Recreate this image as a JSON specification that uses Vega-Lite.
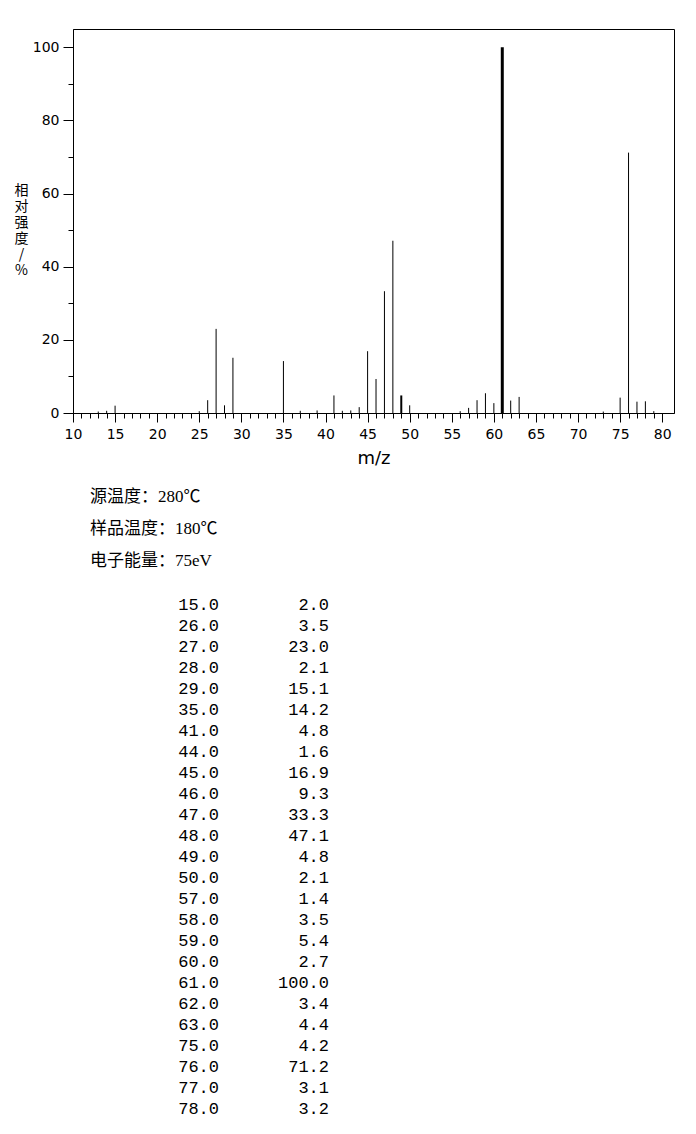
{
  "$schema": "https://vega.github.io/schema/vega-lite/v6.json",
  "background": "white",
  "padding": {"left": 13, "top": 28, "right": 0, "bottom": 0},
  "config": {
    "view": {"stroke": "black", "strokeWidth": 1},
    "axis": {
      "grid": false,
      "domainColor": "black",
      "tickColor": "black",
      "labelColor": "black",
      "titleColor": "black",
      "labelFont": "DejaVu Sans",
      "labelFontSize": 14,
      "titleFontWeight": "normal"
    }
  },
  "datasets": {
    "spectrum": [
      {"mz": 13, "intensity": 0.4, "listed": false},
      {"mz": 14, "intensity": 0.6, "listed": false},
      {"mz": 15, "intensity": 2.0, "listed": true},
      {"mz": 25, "intensity": 0.5, "listed": false},
      {"mz": 26, "intensity": 3.5, "listed": true},
      {"mz": 27, "intensity": 23.0, "listed": true},
      {"mz": 28, "intensity": 2.1, "listed": true},
      {"mz": 29, "intensity": 15.1, "listed": true},
      {"mz": 35, "intensity": 14.2, "listed": true},
      {"mz": 37, "intensity": 0.6, "listed": false},
      {"mz": 39, "intensity": 0.7, "listed": false},
      {"mz": 41, "intensity": 4.8, "listed": true},
      {"mz": 42, "intensity": 0.6, "listed": false},
      {"mz": 43, "intensity": 0.7, "listed": false},
      {"mz": 44, "intensity": 1.6, "listed": true},
      {"mz": 45, "intensity": 16.9, "listed": true},
      {"mz": 46, "intensity": 9.3, "listed": true},
      {"mz": 47, "intensity": 33.3, "listed": true},
      {"mz": 48, "intensity": 47.1, "listed": true},
      {"mz": 49, "intensity": 4.8, "listed": true},
      {"mz": 50, "intensity": 2.1, "listed": true},
      {"mz": 56, "intensity": 0.5, "listed": false},
      {"mz": 57, "intensity": 1.4, "listed": true},
      {"mz": 58, "intensity": 3.5, "listed": true},
      {"mz": 59, "intensity": 5.4, "listed": true},
      {"mz": 60, "intensity": 2.7, "listed": true},
      {"mz": 61, "intensity": 100.0, "listed": true},
      {"mz": 62, "intensity": 3.4, "listed": true},
      {"mz": 63, "intensity": 4.4, "listed": true},
      {"mz": 73, "intensity": 0.4, "listed": false},
      {"mz": 75, "intensity": 4.2, "listed": true},
      {"mz": 76, "intensity": 71.2, "listed": true},
      {"mz": 77, "intensity": 3.1, "listed": true},
      {"mz": 78, "intensity": 3.2, "listed": true},
      {"mz": 79, "intensity": 0.5, "listed": false}
    ]
  },
  "spacing": 20,
  "vconcat": [
    {
      "data": {"name": "spectrum"},
      "width": 601,
      "height": 384,
      "mark": {"type": "rule", "color": "black"},
      "encoding": {
        "x": {
          "field": "mz",
          "type": "quantitative",
          "scale": {"domain": [10, 81.4], "nice": false, "zero": false},
          "axis": {
            "title": "m/z",
            "titleFont": "DejaVu Sans",
            "titleFontSize": 18,
            "titlePadding": 8,
            "values": [10,11,12,13,14,15,16,17,18,19,20,21,22,23,24,25,26,27,28,29,30,31,32,33,34,35,36,37,38,39,40,41,42,43,44,45,46,47,48,49,50,51,52,53,54,55,56,57,58,59,60,61,62,63,64,65,66,67,68,69,70,71,72,73,74,75,76,77,78,79,80],
            "labelExpr": "datum.value % 5 === 0 ? datum.label : ''",
            "labelFlush": false,
            "labelOverlap": false,
            "tickSize": {"condition": {"test": "datum.value % 5 === 0", "value": 9}, "value": 5},
            "labelPadding": 5
          }
        },
        "y": {
          "field": "intensity",
          "type": "quantitative",
          "scale": {"domain": [0, 105], "nice": false},
          "axis": {
            "title": ["相", "对", "强", "度", "/", "%"],
            "titleFont": "Noto Sans CJK SC",
            "titleFontSize": 14,
            "titleLineHeight": 16,
            "titleAngle": 0,
            "titleAlign": "center",
            "titleBaseline": "middle",
            "titleX": -52,
            "titleY": 161,
            "values": [0, 10, 20, 30, 40, 50, 60, 70, 80, 90, 100],
            "labelExpr": "datum.value % 20 === 0 ? datum.label : ''",
            "labelOverlap": false,
            "tickSize": {"condition": {"test": "datum.value % 20 === 0", "value": 10}, "value": 5},
            "labelPadding": 4
          }
        },
        "y2": {"datum": 0},
        "strokeWidth": {
          "condition": [
            {"test": "datum.mz === 61", "value": 3},
            {"test": "datum.mz === 49", "value": 2}
          ],
          "value": 1
        }
      }
    },
    {
      "data": {"name": "spectrum"},
      "title": {
        "text": ["源温度：280℃", "样品温度：180℃", "电子能量：75eV"],
        "anchor": "start",
        "dx": 17,
        "font": "'Liberation Serif', 'Noto Sans CJK SC'",
        "fontSize": 17,
        "fontWeight": "normal",
        "lineHeight": 32,
        "color": "black",
        "offset": 24
      },
      "width": 330,
      "height": {"step": 21},
      "view": {"stroke": null},
      "transform": [
        {"filter": "datum.listed"},
        {"fold": ["mz", "intensity"], "as": ["column", "value"]}
      ],
      "mark": {
        "type": "text",
        "align": "right",
        "baseline": "middle",
        "font": "Liberation Mono",
        "fontSize": 17,
        "color": "black"
      },
      "encoding": {
        "y": {"field": "mz", "type": "ordinal", "axis": null},
        "x": {
          "field": "column",
          "type": "nominal",
          "sort": ["mz", "intensity"],
          "scale": {"padding": 1, "align": 0.6636},
          "axis": null
        },
        "text": {"field": "value", "type": "quantitative", "format": ".1f"}
      }
    }
  ]
}
